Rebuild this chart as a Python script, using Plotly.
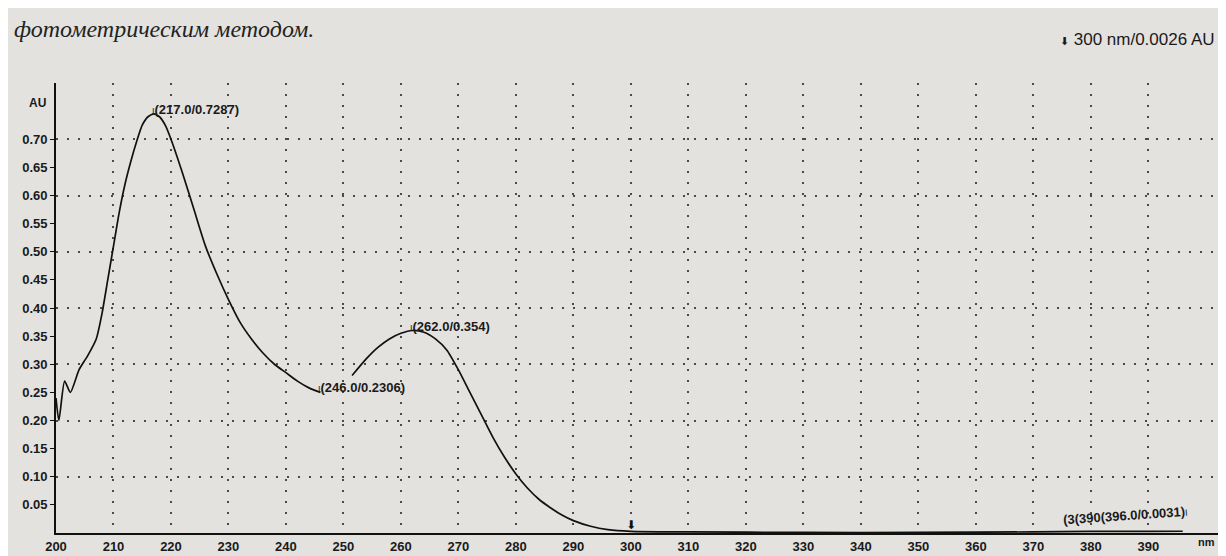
import plotly.graph_objects as go

# ---- data ----
wl_a = [200, 200.5, 201.5, 202.5, 204, 205.5, 207, 208, 209, 210, 211, 212, 213, 214, 215, 216,
        217, 218, 219, 220, 222, 224, 226, 228, 230, 232, 234, 236, 238, 240, 242, 244, 246]
au_a = [0.24, 0.20, 0.27, 0.25, 0.29, 0.315, 0.345, 0.39, 0.45, 0.51, 0.57, 0.62, 0.66, 0.695, 0.725, 0.74,
        0.745, 0.74, 0.725, 0.70, 0.64, 0.575, 0.51, 0.46, 0.415, 0.375, 0.345, 0.32, 0.30, 0.285,
        0.27, 0.258, 0.25]
wl_b = [251.5, 254, 256, 258, 260, 262, 264, 266, 268, 270, 272, 274, 276, 278, 280, 282,
        284, 286, 288, 290, 293, 296, 300, 310, 330, 350, 370, 380, 390, 396]
au_b = [0.28, 0.31, 0.33, 0.345, 0.355, 0.36, 0.357, 0.345, 0.325, 0.29, 0.25, 0.21, 0.17,
        0.135, 0.105, 0.08, 0.06, 0.045, 0.032, 0.022, 0.012, 0.006, 0.003, 0.002, 0.001,
        0.001, 0.002, 0.003, 0.003, 0.0031]

peak_wl = [217, 246, 262]
peak_au = [0.745, 0.25, 0.36]
peak_txt = ["(217.0/0.7287)", "(246.0/0.2306)", "(262.0/0.354)"]

x_ticks = list(range(200, 400, 10))
y_ticks = [round(0.05 * i, 2) for i in range(1, 15)]

# ---- figure ----
fig = go.Figure()
fig.add_trace(go.Scatter(x=wl_a + [None] + wl_b, y=au_a + [None] + au_b, mode="lines",
                         line=dict(color="#111111", width=1.7, shape="spline", smoothing=0.6),
                         connectgaps=False, showlegend=False, hoverinfo="skip"))
# invisible trace on second y-axis for the 0.1 grid
fig.add_trace(go.Scatter(x=[200], y=[0], yaxis="y2", mode="markers",
                         marker=dict(opacity=0), showlegend=False, hoverinfo="skip"))

lab_font = dict(family="Liberation Sans, Arial", size=13, color="#1a1a1a")
font_b = dict(family="Liberation Sans, Arial", size=13, color="#1a1a1a")

for x, y, t in zip(peak_wl, peak_au, peak_txt):
    fig.add_annotation(x=x, y=y, text="<span style='font-size:9px'>I</span><b>" + t + "</b>",
                       showarrow=False, xanchor="left", yanchor="bottom", xshift=-4, yshift=-5,
                       font=lab_font)

fig.add_annotation(x=wl_b[-1], y=au_b[-1],
                   text="<b>(3(390(396.0/0.0031)</b><span style='font-size:9px'>I</span>",
                   showarrow=False, xanchor="right", yanchor="bottom", xshift=8, yshift=2,
                   textangle=-4, font=lab_font)

fig.add_annotation(x=300, y=0.0026, text="⬇", showarrow=False, yanchor="bottom", yshift=-2,
                   font=dict(family="DejaVu Sans", size=12, color="#111111"))

fig.add_annotation(xref="paper", yref="paper", x=0.995, y=1, xanchor="right", yanchor="middle",
                   yshift=44, text="<span style='font-size:11px'>⬇</span> 300 nm/0.0026 AU",
                   showarrow=False, font=dict(family="Liberation Sans, Arial", size=17, color="#1a1a1a"))

fig.add_annotation(xref="paper", yref="paper", x=0, y=1, xanchor="left", yanchor="middle",
                   yshift=54, xshift=-44, text="<i>фотометрическим методом.</i>",
                   showarrow=False, font=dict(family="Liberation Serif, DejaVu Serif", size=24, color="#222222"))

fig.add_annotation(xref="paper", y=0.765, x=0, xanchor="right", yanchor="middle", xshift=-8,
                   text="<b>AU</b>", showarrow=False, font=dict(family="Liberation Sans", size=12, color="#1a1a1a"))

fig.add_annotation(xref="paper", yref="paper", x=1, y=0, xanchor="right", yanchor="top", yshift=-1,
                   xshift=-6, text="<b>nm</b>", showarrow=False,
                   font=dict(family="Liberation Sans", size=11, color="#1a1a1a"))

grid_col = "#4a4a4a"
fig.update_layout(
    width=1226, height=556,
    margin=dict(l=48, r=11, t=75, b=31),
    paper_bgcolor="#e3e2df", plot_bgcolor="#e3e2df",
    xaxis=dict(range=[200, 403], tickvals=x_ticks, ticktext=[f"<b>{v}</b>" for v in x_ticks],
               showgrid=True, gridcolor=grid_col, griddash="2px,9px", gridwidth=1.6,
               showline=True, linecolor="#111111", linewidth=1.8, zeroline=False,
               ticks="", tickfont=font_b),
    yaxis=dict(range=[0, 0.8], tickvals=y_ticks, ticktext=[f"<b>{v:.2f}</b>" for v in y_ticks],
               showgrid=False, showline=True, linecolor="#111111", linewidth=1.6, zeroline=False,
               ticks="outside", ticklen=4, tickcolor="#111111", tickfont=font_b),
    yaxis2=dict(range=[0, 0.8], overlaying="y", dtick=0.1, showticklabels=False,
                showgrid=True, gridcolor=grid_col, griddash="2px,9px", gridwidth=1.6,
                zeroline=False, showline=False),
    showlegend=False,
)

fig.write_html("out.html")
